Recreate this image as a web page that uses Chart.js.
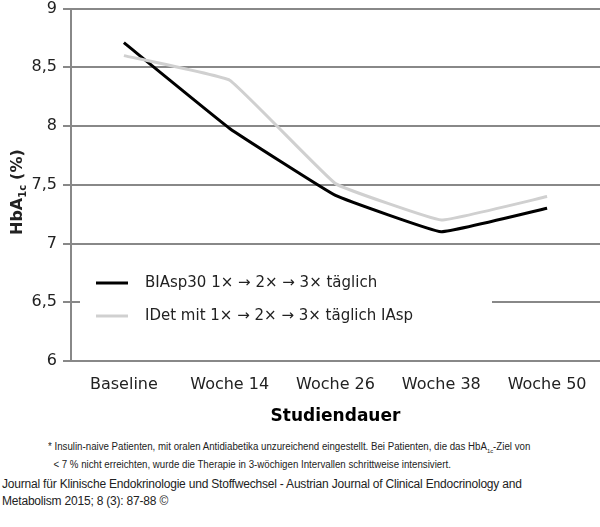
<!DOCTYPE html>
<html><head><meta charset="utf-8">
<script src="https://cdn.jsdelivr.net/npm/chart.js@4/dist/chart.umd.min.js"></script>
<style>
body{margin:0;background:#fff;width:600px;height:527px;overflow:hidden}
#wrap{position:relative;width:600px;height:444px;margin-top:-7px;margin-bottom:3px}
.fn{font-family:"Liberation Sans",Arial,sans-serif;font-size:10px;color:#222;margin:0 0 0 48px;line-height:13px;transform:scaleX(0.97);transform-origin:left}
.j{font-family:"Liberation Sans",Arial,sans-serif;font-size:12px;color:#222;margin:5px 0 0 2px;line-height:17px;letter-spacing:-0.2px}
</style></head><body>
<div id="wrap"><canvas id="c" width="600" height="444"></canvas></div>
<div class="fn">* Insulin-naive Patienten, mit oralen Antidiabetika unzureichend eingestellt. Bei Patienten, die das HbA<sub style="font-size:6px">1c</sub>-Ziel von<br>&nbsp;&nbsp;&lt; 7 % nicht erreichten, wurde die Therapie in 3-wöchigen Intervallen schrittweise intensiviert.</div>
<div class="j">Journal für Klinische Endokrinologie und Stoffwechsel - Austrian Journal of Clinical Endocrinology and<br>Metabolism 2015; 8 (3): 87-88 ©</div>
<script>
const categories=["Baseline","Woche 14","Woche 26","Woche 38","Woche 50"];
const biasp=[8.71,7.98,7.41,7.10,7.30];
const idet=[8.60,8.39,7.51,7.20,7.40];
const seriesNames=["BIAsp30 1× → 2× → 3× täglich","IDet mit 1× → 2× → 3× täglich IAsp"];
const F="'DejaVu Sans',Verdana,sans-serif";
const extras={id:'extras',afterDraw(ch){
  const c=ch.ctx;c.save();
  c.fillStyle='#fff';c.fillRect(80,273,412,72);
  const cols=['#000','#d0d0d0'];const ys=[290,323];
  seriesNames.forEach((n,i)=>{c.strokeStyle=cols[i];c.lineWidth=3;c.beginPath();c.moveTo(96,ys[i]);c.lineTo(128,ys[i]);c.stroke();
    c.fillStyle='#222';c.font='15px '+F;c.textBaseline='middle';c.fillText(n,145,ys[i]);});
  c.translate(18,192);c.rotate(-Math.PI/2);c.fillStyle='#222';c.textBaseline='middle';
  c.font='bold 16px '+F;let x=-50;c.fillText('HbA',x,0);x+=c.measureText('HbA').width;
  c.font='bold 10px '+F;c.fillText('1c',x,5);x+=c.measureText('1c').width+5;
  c.font='bold 16px '+F;c.fillText('(%)',x,0);
  c.restore();}};
new Chart(document.getElementById('c'),{type:'line',
data:{labels:categories,datasets:[
 {label:seriesNames[1],data:idet,borderColor:'#d0d0d0',borderWidth:3,pointRadius:0,tension:0.08},
 {label:seriesNames[0],data:biasp,borderColor:'#000',borderWidth:3,pointRadius:0,tension:0.08}]},
options:{responsive:false,animation:false,layout:{padding:{top:0,right:0,left:0}},
 plugins:{legend:{display:false},tooltip:{enabled:false}},
 scales:{
  x:{offset:true,grid:{display:false},border:{color:'#888',width:2},ticks:{color:'#222',font:{family:F,size:16},padding:6},
     title:{display:true,text:'Studiendauer',color:'#000',font:{family:F,size:17,weight:'bold'},padding:{top:14,bottom:10}},
     afterFit(s){s.height=76;}},
  y:{min:6,max:9,ticks:{stepSize:0.5,color:'#222',font:{family:F,size:16},padding:6,callback:v=>String(v).replace('.',',')},
     grid:{color:'#888',lineWidth:2,tickLength:8,drawTicks:true},border:{color:'#888',width:2},
     afterFit(s){s.width=71;}}}},
plugins:[extras]});
</script></body></html>
